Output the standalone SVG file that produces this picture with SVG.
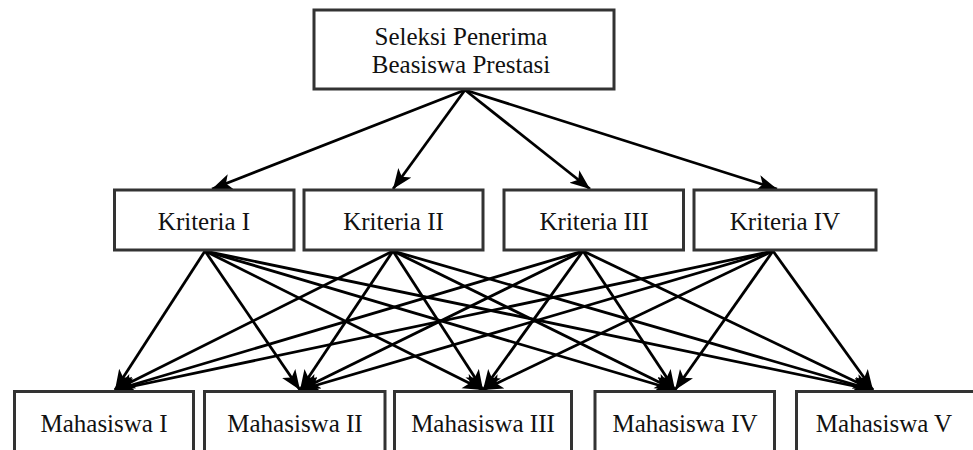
<svg xmlns="http://www.w3.org/2000/svg" width="973" height="450" viewBox="0 0 973 450">
<style>
.box{fill:#fff;stroke:#333;stroke-width:3}
.t{font-family:"Liberation Serif","Times New Roman",serif;font-size:25px;fill:#111;text-anchor:middle}
.c{stroke:#000;stroke-width:2.8;fill:none;marker-end:url(#ah)}
</style>
<defs>
<marker id="ah" markerUnits="userSpaceOnUse" markerWidth="22" markerHeight="18" refX="20" refY="8" orient="auto">
<path d="M0,0 L20,8 L0,16 L5,8 z" fill="#000"/>
</marker>
</defs>
<rect width="973" height="450" fill="#fff"/>
<g id="connectors">
<line class="c" x1="465" y1="90" x2="212" y2="189"/>
<line class="c" x1="465" y1="90" x2="393" y2="189"/>
<line class="c" x1="465" y1="90" x2="590" y2="189"/>
<line class="c" x1="465" y1="90" x2="777" y2="189"/>
<line class="c" x1="205" y1="251" x2="115" y2="390"/>
<line class="c" x1="205" y1="251" x2="300" y2="390"/>
<line class="c" x1="205" y1="251" x2="483" y2="390"/>
<line class="c" x1="205" y1="251" x2="675" y2="390"/>
<line class="c" x1="205" y1="251" x2="873" y2="390"/>
<line class="c" x1="393" y1="251" x2="115" y2="390"/>
<line class="c" x1="393" y1="251" x2="300" y2="390"/>
<line class="c" x1="393" y1="251" x2="483" y2="390"/>
<line class="c" x1="393" y1="251" x2="675" y2="390"/>
<line class="c" x1="393" y1="251" x2="873" y2="390"/>
<line class="c" x1="583" y1="251" x2="115" y2="390"/>
<line class="c" x1="583" y1="251" x2="300" y2="390"/>
<line class="c" x1="583" y1="251" x2="483" y2="390"/>
<line class="c" x1="583" y1="251" x2="675" y2="390"/>
<line class="c" x1="583" y1="251" x2="873" y2="390"/>
<line class="c" x1="773" y1="251" x2="115" y2="390"/>
<line class="c" x1="773" y1="251" x2="300" y2="390"/>
<line class="c" x1="773" y1="251" x2="483" y2="390"/>
<line class="c" x1="773" y1="251" x2="675" y2="390"/>
<line class="c" x1="773" y1="251" x2="873" y2="390"/>
</g>
<g id="root">
<rect class="box" x="314" y="10" width="300" height="79"/>
<text class="t" x="461" y="45">Seleksi Penerima</text>
<text class="t" x="461" y="73">Beasiswa Prestasi</text>
</g>
<g id="k1"><rect class="box" x="114.5" y="190" width="179.5" height="60"/><text class="t" x="204" y="230">Kriteria I</text></g>
<g id="k2"><rect class="box" x="304" y="190" width="179" height="60"/><text class="t" x="393.5" y="230">Kriteria II</text></g>
<g id="k3"><rect class="box" x="504" y="190" width="179.5" height="60"/><text class="t" x="594" y="230">Kriteria III</text></g>
<g id="k4"><rect class="box" x="694" y="190" width="182" height="60"/><text class="t" x="785" y="230">Kriteria IV</text></g>
<g id="m1"><rect class="box" x="14.5" y="391.5" width="179" height="65"/><text class="t" x="104" y="432">Mahasiswa I</text></g>
<g id="m2"><rect class="box" x="204.5" y="391.5" width="180.5" height="65"/><text class="t" x="295" y="432">Mahasiswa II</text></g>
<g id="m3"><rect class="box" x="394.5" y="391.5" width="177" height="65"/><text class="t" x="483" y="432">Mahasiswa III</text></g>
<g id="m4"><rect class="box" x="595" y="391.5" width="179.5" height="65"/><text class="t" x="685" y="432">Mahasiswa IV</text></g>
<g id="m5"><rect class="box" x="796.5" y="391.5" width="185" height="65"/><text class="t" x="884" y="432">Mahasiswa V</text></g>
</svg>
